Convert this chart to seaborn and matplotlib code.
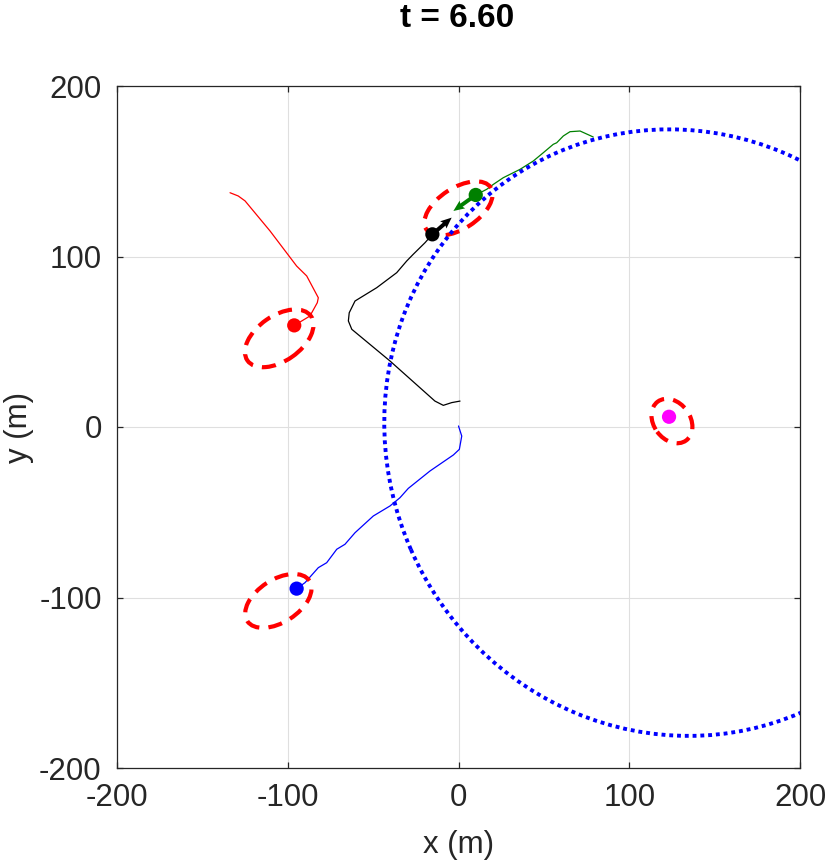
import numpy as np
import pandas as pd
import matplotlib
matplotlib.use("Agg")
import matplotlib.pyplot as plt
from matplotlib.patches import Ellipse
import seaborn as sns

# ---------------- data ----------------
title_text = "t = 6.60"
x_ticks = [-200, -100, 0, 100, 200]
y_ticks = [-200, -100, 0, 100, 200]
x_label = "x (m)"
y_label = "y (m)"

red_path_x = [-133.8, -129.0, -125.0, -110.4, -94.8, -88.9, -82.1, -82.7, -87.0, -91.8, -96.2]
red_path_y = [137.4, 135.5, 132.6, 115.0, 94.4, 88.6, 75.8, 72.9, 65.1, 62.2, 59.6]

blue_path_x = [0.0, 1.9, 0.5, -3.0, -16.7, -29.4, -34.3, -40.1, -49.9, -60.6, -66.5, -71.3, -77.2, -82.1, -89.9, -94.8]
blue_path_y = [0.6, -5.3, -13.1, -16.4, -25.8, -36.0, -41.5, -46.3, -52.2, -62.0, -68.8, -71.7, -79.6, -82.5, -91.3, -94.8]

black_path_x = [0.9, -4.0, -8.9, -13.8, -40.1, -62.5, -64.5, -64.0, -60.6, -47.9, -36.2, -30.3, -26.5, -19.6, -15.3]
black_path_y = [15.2, 14.3, 12.7, 15.2, 38.7, 57.3, 62.2, 67.0, 73.9, 81.7, 90.5, 97.4, 101.3, 108.1, 113.0]

green_path_x = [78.9, 71.2, 65.3, 61.4, 57.5, 55.5, 49.7, 43.8, 36.0, 26.2, 20.4, 16.5, 10.1]
green_path_y = [170.1, 173.6, 173.2, 170.7, 166.7, 165.8, 160.9, 156.0, 151.1, 146.2, 142.3, 139.4, 136.1]

dot_names = ["red", "blue", "black", "green", "target"]
dot_x = [-96.2, -94.8, -15.3, 10.1, 123.3]
dot_y = [59.6, -94.8, 113.0, 136.1, 6.0]

arrow_x = [-15.3, 10.1]
arrow_y = [113.0, 136.1]
arrow_u = [11.3, -13.1]
arrow_v = [9.8, -9.4]
arrow_colors = ["#000000", "#008000"]

ell_cx = [-105.0, -105.5, 0.0, 125.0]
ell_cy = [52.0, -102.0, 128.2, 3.5]
ell_w = [45.4, 43.4, 45.0, 28.2]
ell_h = [26.4, 25.0, 24.0, 21.4]
ell_ang = [35.0, 33.0, 33.0, -54.0]

range_cx = 129.1
range_cy = -3.3
range_w = 358.2
range_h = 342.6
range_ang = -66.4

# ---------------- style ----------------
sns.set_theme(style="whitegrid")
plt.rcParams['font.family'] = ['Liberation Sans', 'DejaVu Sans']

fig = plt.figure(figsize=(8.3, 8.65), dpi=100)
ax = fig.add_axes([117/830, 97/865, 683/830, 682/865])
ax.set_facecolor("white")

colors = {"red": "#ff0000", "blue": "#0000ff", "black": "#000000",
          "green": "#008000", "target": "#ff00ff"}

paths = pd.concat([
    pd.DataFrame({"x": red_path_x, "y": red_path_y, "agent": "red"}),
    pd.DataFrame({"x": blue_path_x, "y": blue_path_y, "agent": "blue"}),
    pd.DataFrame({"x": black_path_x, "y": black_path_y, "agent": "black"}),
    pd.DataFrame({"x": green_path_x, "y": green_path_y, "agent": "green"}),
], ignore_index=True)

sns.lineplot(data=paths, x="x", y="y", hue="agent", units="agent",
             estimator=None, sort=False, palette=colors, linewidth=0.9,
             legend=False, ax=ax, zorder=2)

for cx, cy, w, h, a in zip(ell_cx, ell_cy, ell_w, ell_h, ell_ang):
    ax.add_patch(Ellipse((cx, cy), w, h, angle=a, fill=False,
                         edgecolor="#ff0000", linewidth=3.0,
                         linestyle=(0, (3.4, 2.2)), zorder=3))

ax.add_patch(Ellipse((range_cx, range_cy), range_w, range_h, angle=range_ang,
                     fill=False, edgecolor="#0000ff", linewidth=2.8,
                     linestyle=(0, (1, 1.0)), zorder=4))

dots = pd.DataFrame({"x": dot_x, "y": dot_y, "agent": dot_names})
sns.scatterplot(data=dots, x="x", y="y", hue="agent", palette=colors,
                s=105, linewidth=0, legend=False, ax=ax, zorder=5)

ax.quiver(arrow_x, arrow_y, arrow_u, arrow_v, color=arrow_colors,
          angles="xy", scale_units="xy", scale=1, width=0.0058,
          headwidth=2.4, headlength=2.8, headaxislength=2.5, zorder=6)

# ---------------- axes ----------------
ax.set_xlim(-200, 200)
ax.set_ylim(-200, 200)
ax.set_xticks(x_ticks)
ax.set_yticks(y_ticks)
ax.set_xticklabels([str(v) for v in x_ticks])
ax.set_yticklabels([str(v) for v in y_ticks])
ax.grid(True, color="#dfdfdf", linewidth=0.8)
for s in ax.spines.values():
    s.set_visible(True)
    s.set_color("#262626")
    s.set_linewidth(0.9)
ax.tick_params(axis="both", which="major", direction="in", length=4,
               width=0.9, color="#262626", labelcolor="#262626",
               labelsize=22.5, top=True, right=True, bottom=True, left=True)
ax.tick_params(axis="x", pad=11)
ax.tick_params(axis="y", pad=11)
ax.set_xlabel(x_label, fontsize=22.5, color="#262626", labelpad=12)
ax.set_ylabel(y_label, fontsize=22.5, color="#262626", labelpad=4)

fig.text(457/830, 1 - 26.7/865, title_text, ha="center", va="baseline",
         fontsize=24, fontweight="bold", color="black")

fig.savefig("out.png", dpi=100)
